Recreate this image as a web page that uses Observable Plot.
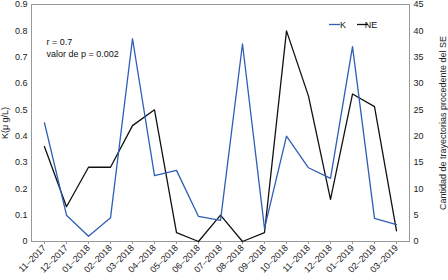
<!DOCTYPE html>
<html><head><meta charset="utf-8">
<script src="https://cdn.jsdelivr.net/npm/d3@7"></script>
<script src="https://cdn.jsdelivr.net/npm/@observablehq/plot@0.6"></script>
<style>body{margin:0;background:#fff}</style>
</head><body><div id="chart"></div>
<script>
const months = ["11–2017","12–2017","01–2018","02–2018","03–2018","04–2018","05–2018","06–2018","07–2018","08–2018","09–2018","10–2018","11–2018","12–2018","01–2019","02–2019","03–2019"];
const kValues = [0.45,0.10,0.02,0.09,0.77,0.25,0.27,0.095,0.08,0.75,0.05,0.40,0.28,0.24,0.74,0.088,0.064];
const neValues = [18,6.6,14.1,14.1,22,25,1.7,0,5,0,1.7,40,27.6,8,28,25.6,2];
const leftTicks = [0,0.1,0.2,0.3,0.4,0.5,0.6,0.7,0.8,0.9];
const rightTicks = [0,5,10,15,20,25,30,35,40,45];
const annotation = ["r = 0.7","valor de p = 0.002"];
const ratio = 0.9/45;

const kData = months.map((m,i)=>({m, v:kValues[i]}));
const neData = months.map((m,i)=>({m, v:neValues[i]*ratio}));

const font = "Liberation Sans, Arial, sans-serif";
const plot = Plot.plot({
  width:448, height:280,
  marginLeft:31, marginRight:39, marginTop:4, marginBottom:39,
  style:{fontFamily:font, fontSize:"9px", color:"#222"},
  x:{type:"point", domain:months, padding:0.5},
  y:{domain:[0,0.9]},
  marks:[
    Plot.frame({stroke:"#999"}),
    Plot.axisX({tickRotate:-45, tickSize:3, stroke:"#999", label:null, tickPadding:2, fontSize:9}),
    Plot.axisY({ticks:leftTicks, tickSize:0, tickPadding:4, tickFormat:d=>d===0?"0":d3.format(".1f")(d), label:"K(μ g/L)", labelAnchor:"center", labelArrow:"none", labelOffset:30, fontSize:9}),
    Plot.axisY({anchor:"right", ticks:rightTicks.map(v=>v*ratio), tickSize:0, tickPadding:4, tickFormat:d=>String(Math.round(d/ratio)), label:"Cantidad de trayectorias procedente del SE", labelAnchor:"center", labelArrow:"none", labelOffset:36, fontSize:9}),
    Plot.line(neData,{x:"m", y:"v", stroke:"#111", strokeWidth:1.3}),
    Plot.line(kData,{x:"m", y:"v", stroke:"#2e5eb6", strokeWidth:1.3}),
    Plot.text([annotation.join("\n")],{frameAnchor:"top-left", dx:15, dy:32, text:d=>d, fontSize:9, lineHeight:1.3, textAnchor:"start", fill:"#111"})
  ]
});
document.getElementById("chart").appendChild(plot);
// legend
const svg = d3.select(plot);
const lg = svg.append("g").attr("font-family",font).attr("font-size",9).attr("fill","#111");
const items = [{label:"K", color:"#2e5eb6", x:329},{label:"NE", color:"#111", x:357}];
items.forEach(it=>{
  lg.append("line").attr("x1",it.x).attr("x2",it.x+11).attr("y1",24.5).attr("y2",24.5).attr("stroke",it.color).attr("stroke-width",1.3);
  lg.append("text").attr("x",it.x+14).attr("y",28).text(it.label);
});
</script></body></html>
